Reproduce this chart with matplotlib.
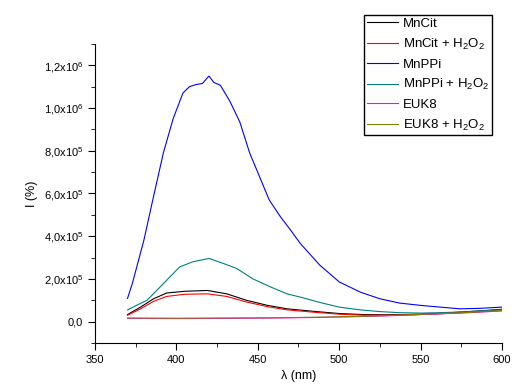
import matplotlib.pyplot as plt
from matplotlib.ticker import MultipleLocator, FixedLocator

plt.rcParams['font.family'] = ['Liberation Sans', 'DejaVu Sans']
plt.rcParams['mathtext.fontset'] = 'custom'
plt.rcParams['mathtext.rm'] = 'Liberation Sans'
plt.rcParams['mathtext.it'] = 'Liberation Sans:italic'

# values (intensity in units of 1e5)
lam_mnppi = [370, 373, 380, 386, 392, 398, 404, 408, 412, 416, 420, 423, 427, 433, 439,
             445, 451, 457, 464, 470, 476, 488, 500, 513, 525, 537, 550, 562, 574, 586, 600]
mnppi = [1.09, 1.8, 3.8, 5.87, 7.9, 9.5, 10.7, 11.0, 11.1, 11.15, 11.5, 11.2, 11.07, 10.3, 9.34,
         7.9, 6.8, 5.7, 4.9, 4.3, 3.67, 2.65, 1.86, 1.38, 1.07, 0.87, 0.76, 0.68, 0.60, 0.62, 0.68]

lam_mnppi_h2o2 = [370, 376, 382, 392, 402, 410, 420, 429, 437, 447, 458, 468, 476, 488,
                  500, 513, 525, 537, 550, 562, 575, 587, 600]
mnppi_h2o2 = [0.55, 0.78, 1.0, 1.78, 2.56, 2.8, 2.96, 2.72, 2.49, 2.0, 1.62, 1.3, 1.15, 0.9,
              0.68, 0.55, 0.47, 0.42, 0.40, 0.42, 0.45, 0.5, 0.55]

lam_mncit = [370, 378, 386, 394, 405, 419, 431, 443, 456, 468, 486, 500, 515, 530, 545,
             560, 575, 590, 600]
mncit = [0.33, 0.68, 1.07, 1.34, 1.42, 1.46, 1.30, 1.0, 0.76, 0.6, 0.47, 0.38, 0.33, 0.32,
         0.34, 0.38, 0.45, 0.52, 0.58]
mncit_h2o2 = [0.30, 0.6, 0.95, 1.18, 1.28, 1.3, 1.18, 0.92, 0.7, 0.55, 0.43, 0.35, 0.3, 0.3,
              0.32, 0.36, 0.42, 0.5, 0.56]

lam_euk = [370, 400, 430, 460, 490, 520, 540, 560, 580, 600]
euk8 = [0.15, 0.14, 0.15, 0.17, 0.2, 0.25, 0.3, 0.36, 0.42, 0.5]
euk8_h2o2 = [0.17, 0.16, 0.17, 0.18, 0.21, 0.26, 0.31, 0.37, 0.43, 0.52]

ytick_vals = [0, 2e5, 4e5, 6e5, 8e5, 1e6, 1.2e6]
ytick_labels = ['0,0', r'2,0x10$^5$', r'4,0x10$^5$', r'6,0x10$^5$', r'8,0x10$^5$',
                r'1,0x10$^6$', r'1,2x10$^6$']

sc = 1e5
fig = plt.figure(figsize=(5.12, 3.89), dpi=100)
ax = fig.add_axes([0.1855, 0.1183, 0.795, 0.7686])

lw = 0.8
ax.plot(lam_mncit, [v * sc for v in mncit], color='black', lw=lw, label='MnCit')
ax.plot(lam_mncit, [v * sc for v in mncit_h2o2], color='red', lw=lw,
        label=r'MnCit + H$_2$O$_2$')
ax.plot(lam_mnppi, [v * sc for v in mnppi], color='blue', lw=lw, label='MnPPi')
ax.plot(lam_mnppi_h2o2, [v * sc for v in mnppi_h2o2], color='#008080', lw=lw,
        label=r'MnPPi + H$_2$O$_2$')
ax.plot(lam_euk, [v * sc for v in euk8], color='magenta', lw=lw, label='EUK8')
ax.plot(lam_euk, [v * sc for v in euk8_h2o2], color='#808000', lw=lw,
        label=r'EUK8 + H$_2$O$_2$')

ax.set_xlim(350, 600)
ax.set_ylim(-1e5, 1.3e6)
ax.xaxis.set_major_locator(MultipleLocator(50))
ax.xaxis.set_minor_locator(MultipleLocator(25))
ax.yaxis.set_major_locator(FixedLocator(ytick_vals))
ax.yaxis.set_minor_locator(MultipleLocator(1e5))
ax.set_yticklabels(ytick_labels)
ax.spines['top'].set_visible(False)
ax.spines['right'].set_visible(False)
ax.tick_params(which='major', direction='out', length=5, labelsize=8)
ax.tick_params(which='minor', direction='out', length=3)
ax.set_xlabel('λ (nm)', fontsize=9)
ax.set_ylabel('I (%)', fontsize=9)

fig.legend(loc='upper right', bbox_to_anchor=(0.961, 0.961), fontsize=9.5,
           frameon=True, fancybox=False, edgecolor='black', framealpha=1,
           handlelength=2.4, handletextpad=0.35, borderaxespad=0, borderpad=0.2,
           labelspacing=0.5)

fig.savefig('out.png', dpi=100)
